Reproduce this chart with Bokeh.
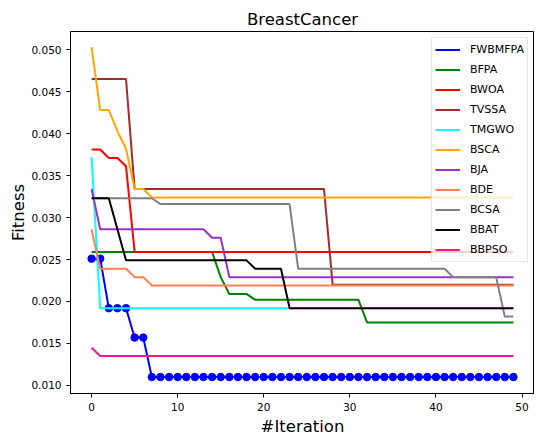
from bokeh.plotting import figure
from bokeh.models import FixedTicker, Range1d, PrintfTickFormatter
from bokeh.embed import file_html
from bokeh.resources import INLINE

iterations = list(range(50))

FWBMFPA = [0.0251, 0.0251, 0.0192, 0.0192, 0.0192, 0.0157, 0.0157, 0.0110, 0.0110, 0.0110,
           0.0110, 0.0110, 0.0110, 0.0110, 0.0110, 0.0110, 0.0110, 0.0110, 0.0110, 0.0110,
           0.0110, 0.0110, 0.0110, 0.0110, 0.0110, 0.0110, 0.0110, 0.0110, 0.0110, 0.0110,
           0.0110, 0.0110, 0.0110, 0.0110, 0.0110, 0.0110, 0.0110, 0.0110, 0.0110, 0.0110,
           0.0110, 0.0110, 0.0110, 0.0110, 0.0110, 0.0110, 0.0110, 0.0110, 0.0110, 0.0110]
BFPA = [0.0259, 0.0259, 0.0259, 0.0259, 0.0259, 0.0259, 0.0259, 0.0259, 0.0259, 0.0259,
        0.0259, 0.0259, 0.0259, 0.0259, 0.0259, 0.0229, 0.0209, 0.0209, 0.0209, 0.0202,
        0.0202, 0.0202, 0.0202, 0.0202, 0.0202, 0.0202, 0.0202, 0.0202, 0.0202, 0.0202,
        0.0202, 0.0202, 0.0175, 0.0175, 0.0175, 0.0175, 0.0175, 0.0175, 0.0175, 0.0175,
        0.0175, 0.0175, 0.0175, 0.0175, 0.0175, 0.0175, 0.0175, 0.0175, 0.0175, 0.0175]
BWOA = [0.0381, 0.0381, 0.0371, 0.0371, 0.0361, 0.0259, 0.0259, 0.0259, 0.0259, 0.0259,
        0.0259, 0.0259, 0.0259, 0.0259, 0.0259, 0.0259, 0.0259, 0.0259, 0.0259, 0.0259,
        0.0259, 0.0259, 0.0259, 0.0259, 0.0259, 0.0259, 0.0259, 0.0259, 0.0259, 0.0259,
        0.0259, 0.0259, 0.0259, 0.0259, 0.0259, 0.0259, 0.0259, 0.0259, 0.0259, 0.0259,
        0.0259, 0.0259, 0.0259, 0.0259, 0.0259, 0.0259, 0.0259, 0.0259, 0.0259, 0.0259]
TVSSA = [0.0465, 0.0465, 0.0465, 0.0465, 0.0465, 0.0334, 0.0334, 0.0334, 0.0334, 0.0334,
         0.0334, 0.0334, 0.0334, 0.0334, 0.0334, 0.0334, 0.0334, 0.0334, 0.0334, 0.0334,
         0.0334, 0.0334, 0.0334, 0.0334, 0.0334, 0.0334, 0.0334, 0.0334, 0.0220, 0.0220,
         0.0220, 0.0220, 0.0220, 0.0220, 0.0220, 0.0220, 0.0220, 0.0220, 0.0220, 0.0220,
         0.0220, 0.0220, 0.0220, 0.0220, 0.0220, 0.0220, 0.0220, 0.0220, 0.0220, 0.0220]
TMGWO = [0.0372, 0.0192, 0.0192, 0.0192, 0.0192, 0.0192, 0.0192, 0.0192, 0.0192, 0.0192,
         0.0192, 0.0192, 0.0192, 0.0192, 0.0192, 0.0192, 0.0192, 0.0192, 0.0192, 0.0192,
         0.0192, 0.0192, 0.0192, 0.0192, 0.0192, 0.0192, 0.0192, 0.0192, 0.0192, 0.0192,
         0.0192, 0.0192, 0.0192, 0.0192, 0.0192, 0.0192, 0.0192, 0.0192, 0.0192, 0.0192,
         0.0192, 0.0192, 0.0192, 0.0192, 0.0192, 0.0192, 0.0192, 0.0192, 0.0192, 0.0192]
BSCA = [0.0503, 0.0428, 0.0428, 0.0403, 0.0382, 0.0334, 0.0334, 0.0324, 0.0324, 0.0324,
        0.0324, 0.0324, 0.0324, 0.0324, 0.0324, 0.0324, 0.0324, 0.0324, 0.0324, 0.0324,
        0.0324, 0.0324, 0.0324, 0.0324, 0.0324, 0.0324, 0.0324, 0.0324, 0.0324, 0.0324,
        0.0324, 0.0324, 0.0324, 0.0324, 0.0324, 0.0324, 0.0324, 0.0324, 0.0324, 0.0324,
        0.0324, 0.0324, 0.0324, 0.0324, 0.0324, 0.0324, 0.0324, 0.0324, 0.0324, 0.0324]
BJA = [0.0334, 0.0286, 0.0286, 0.0286, 0.0286, 0.0286, 0.0286, 0.0286, 0.0286, 0.0286,
       0.0286, 0.0286, 0.0286, 0.0286, 0.0276, 0.0276, 0.0229, 0.0229, 0.0229, 0.0229,
       0.0229, 0.0229, 0.0229, 0.0229, 0.0229, 0.0229, 0.0229, 0.0229, 0.0229, 0.0229,
       0.0229, 0.0229, 0.0229, 0.0229, 0.0229, 0.0229, 0.0229, 0.0229, 0.0229, 0.0229,
       0.0229, 0.0229, 0.0229, 0.0229, 0.0229, 0.0229, 0.0229, 0.0229, 0.0229, 0.0229]
BDE = [0.0286, 0.0239, 0.0239, 0.0239, 0.0239, 0.0229, 0.0229, 0.0219, 0.0219, 0.0219,
       0.0219, 0.0219, 0.0219, 0.0219, 0.0219, 0.0219, 0.0219, 0.0219, 0.0219, 0.0219,
       0.0219, 0.0219, 0.0219, 0.0219, 0.0219, 0.0219, 0.0219, 0.0219, 0.0219, 0.0219,
       0.0219, 0.0219, 0.0219, 0.0219, 0.0219, 0.0219, 0.0219, 0.0219, 0.0219, 0.0219,
       0.0219, 0.0219, 0.0219, 0.0219, 0.0219, 0.0219, 0.0219, 0.0219, 0.0219, 0.0219]
BCSA = [0.0323, 0.0323, 0.0323, 0.0323, 0.0323, 0.0323, 0.0323, 0.0323, 0.0316, 0.0316,
        0.0316, 0.0316, 0.0316, 0.0316, 0.0316, 0.0316, 0.0316, 0.0316, 0.0316, 0.0316,
        0.0316, 0.0316, 0.0316, 0.0316, 0.0239, 0.0239, 0.0239, 0.0239, 0.0239, 0.0239,
        0.0239, 0.0239, 0.0239, 0.0239, 0.0239, 0.0239, 0.0239, 0.0239, 0.0239, 0.0239,
        0.0239, 0.0239, 0.0229, 0.0229, 0.0229, 0.0229, 0.0229, 0.0229, 0.0182, 0.0182]
BBAT = [0.0323, 0.0323, 0.0323, 0.0286, 0.0249, 0.0249, 0.0249, 0.0249, 0.0249, 0.0249,
        0.0249, 0.0249, 0.0249, 0.0249, 0.0249, 0.0249, 0.0249, 0.0249, 0.0249, 0.0239,
        0.0239, 0.0239, 0.0239, 0.0192, 0.0192, 0.0192, 0.0192, 0.0192, 0.0192, 0.0192,
        0.0192, 0.0192, 0.0192, 0.0192, 0.0192, 0.0192, 0.0192, 0.0192, 0.0192, 0.0192,
        0.0192, 0.0192, 0.0192, 0.0192, 0.0192, 0.0192, 0.0192, 0.0192, 0.0192, 0.0192]
BBPSO = [0.0145, 0.0135, 0.0135, 0.0135, 0.0135, 0.0135, 0.0135, 0.0135, 0.0135, 0.0135,
         0.0135, 0.0135, 0.0135, 0.0135, 0.0135, 0.0135, 0.0135, 0.0135, 0.0135, 0.0135,
         0.0135, 0.0135, 0.0135, 0.0135, 0.0135, 0.0135, 0.0135, 0.0135, 0.0135, 0.0135,
         0.0135, 0.0135, 0.0135, 0.0135, 0.0135, 0.0135, 0.0135, 0.0135, 0.0135, 0.0135,
         0.0135, 0.0135, 0.0135, 0.0135, 0.0135, 0.0135, 0.0135, 0.0135, 0.0135, 0.0135]

names = ["FWBMFPA", "BFPA", "BWOA", "TVSSA", "TMGWO", "BSCA", "BJA", "BDE", "BCSA", "BBAT", "BBPSO"]
series = [FWBMFPA, BFPA, BWOA, TVSSA, TMGWO, BSCA, BJA, BDE, BCSA, BBAT, BBPSO]
colors = ["#0000ff", "#008000", "#ff0000", "#a52a2a", "#00ffff", "#ffa500",
          "#9932cc", "#ff7f50", "#808080", "#000000", "#ff1493"]

x_ticks = [0, 10, 20, 30, 40, 50]
y_ticks = [0.010, 0.015, 0.020, 0.025, 0.030, 0.035, 0.040, 0.045, 0.050]

FONT = "DejaVu Sans"

p = figure(width=534, height=438, output_backend="svg", toolbar_location=None,
           x_range=Range1d(-2.45, 51.45), y_range=Range1d(0.00904, 0.05216),
           title="BreastCancer", min_border_left=70, min_border_right=0,
           min_border_top=31, min_border_bottom=0)

p.title.align = "center"
p.title.text_font = FONT
p.title.text_font_size = "16.5px"
p.title.text_font_style = "normal"
p.title.text_color = "#000000"
p.title.standoff = 6

p.grid.visible = False
p.outline_line_color = "#000000"
p.outline_line_alpha = 1.0
p.outline_line_width = 1
p.background_fill_color = "#ffffff"
p.border_fill_color = "#ffffff"

for ax in (p.xaxis[0], p.yaxis[0]):
    ax.axis_line_color = "#000000"
    ax.major_tick_line_color = "#000000"
    ax.major_tick_out = 4
    ax.major_tick_in = 0
    ax.minor_tick_line_color = None
    ax.major_label_text_font = FONT
    ax.major_label_text_font_size = "10.5px"
    ax.major_label_text_color = "#000000"
    ax.axis_label_text_font = FONT
    ax.axis_label_text_font_size = "16.5px"
    ax.axis_label_text_font_style = "normal"
    ax.axis_label_text_color = "#000000"

p.xaxis.ticker = FixedTicker(ticks=x_ticks)
p.yaxis.ticker = FixedTicker(ticks=y_ticks)
p.yaxis.formatter = PrintfTickFormatter(format="%.3f")
p.xaxis.axis_label = "#Iteration"
p.yaxis.axis_label = "Fitness"
p.xaxis.major_label_standoff = 5
p.xaxis.axis_label_standoff = 3
p.yaxis.axis_label_standoff = 0

for name, vals, col in zip(names, series, colors):
    p.line(iterations, vals, line_color=col, line_width=2, legend_label=name)
    if name == "FWBMFPA":
        p.scatter(iterations, vals, marker="circle", size=7.5,
                  fill_color=col, line_color=col)

lg = p.legend[0]
lg.location = "top_right"
lg.margin = 6
lg.padding = 3
lg.spacing = 3
lg.glyph_height = 17
lg.label_height = 17
lg.glyph_width = 25
lg.label_standoff = 10
lg.label_text_font = FONT
lg.label_text_font_size = "11px"
lg.label_text_color = "#000000"
lg.border_line_color = "#cccccc"
lg.border_line_width = 1
lg.background_fill_color = "#ffffff"
lg.background_fill_alpha = 0.8

open("out.html", "w").write(file_html(p, INLINE))
